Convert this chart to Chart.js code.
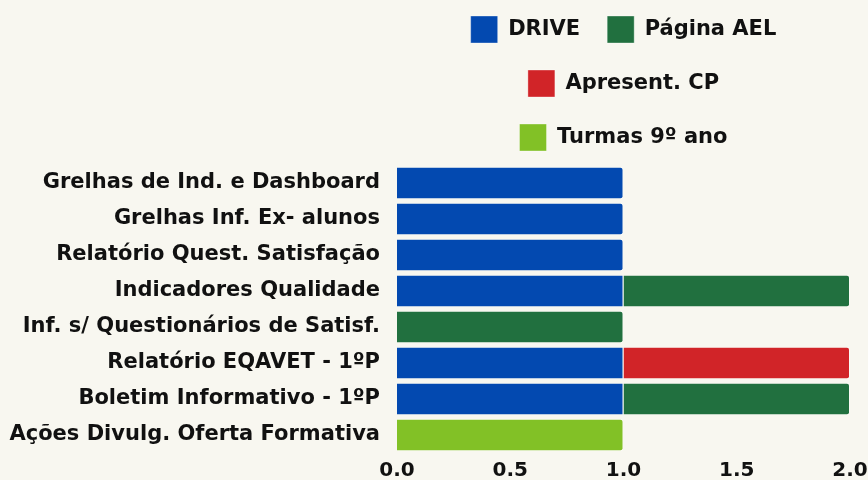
<!DOCTYPE html>
<html>
<head>
<meta charset="utf-8">
<script src="https://cdn.jsdelivr.net/npm/chart.js@4/dist/chart.umd.min.js"></script>
<style>
  html, body { margin: 0; padding: 0; background: #f8f7f0; }
  #wrap { width: 868px; height: 480px; position: relative; }
</style>
</head>
<body>
<div id="wrap"><canvas id="c" width="868" height="480"></canvas></div>
<script>
const categories = [
  "Grelhas de Ind. e Dashboard",
  "Grelhas Inf. Ex- alunos",
  "Relatório Quest. Satisfação",
  "Indicadores Qualidade",
  "Inf. s/ Questionários de Satisf.",
  "Relatório EQAVET - 1ºP",
  "Boletim Informativo - 1ºP",
  "Ações Divulg. Oferta Formativa"
];
const seriesNames = ["DRIVE", "Página AEL", "Apresent. CP", "Turmas 9º ano"];
const drive      = [1, 1, 1, 1, null, 1, 1, null];
const paginaAEL  = [null, null, null, 1, 1, null, 1, null];
const apresentCP = [null, null, null, null, null, 1, null, null];
const turmas9    = [null, null, null, null, null, null, null, 1];
const xTicks = [0, 0.5, 1, 1.5, 2];

const colors = ["#0349b0", "#21703f", "#d12428", "#82c126"];
const FONT = "'DejaVu Sans', sans-serif";

function ds(label, data, color) {
  return {
    label, data,
    backgroundColor: color,
    borderColor: "rgba(255,255,255,0.35)",
    borderWidth: 1,
    borderRadius: 3,
    barPercentage: 0.9,
    categoryPercentage: 1.0
  };
}

const chart = new Chart(document.getElementById("c"), {
  type: "bar",
  data: {
    labels: categories,
    datasets: [
      ds(seriesNames[0], drive, colors[0]),
      ds(seriesNames[1], paginaAEL, colors[1]),
      ds(seriesNames[2], apresentCP, colors[2]),
      ds(seriesNames[3], turmas9, colors[3])
    ]
  },
  options: {
    indexAxis: "y",
    responsive: false,
    animation: false,
    layout: { padding: { left: 0, right: 0, top: -11, bottom: 0 } },
    plugins: {
      legend: {
        position: "top",
        fullSize: false,
        labels: {
          boxWidth: 27,
          boxHeight: 27,
          padding: 27,
          color: "#111",
          font: { family: FONT, size: 21, weight: "bold" }
        }
      },
      tooltip: { enabled: false }
    },
    scales: {
      x: {
        stacked: true,
        min: 0,
        max: 2,
        afterBuildTicks: (axis) => { axis.ticks = xTicks.map(v => ({ value: v })); },
        afterFit: (axis) => { axis.paddingRight = 18; axis.paddingBottom = 0; axis.height = 27; },
        grid: { display: false, drawTicks: false },
        border: { display: false },
        ticks: {
          color: "#111",
          padding: 6,
          maxRotation: 0,
          font: { family: FONT, size: 20, weight: "bold" },
          callback: (v) => Number(v).toFixed(1)
        }
      },
      y: {
        stacked: true,
        grid: { display: false, drawTicks: false },
        border: { display: false },
        afterFit: (axis) => { axis.width = 397; axis.paddingTop = 0; axis.paddingBottom = 0; },
        ticks: {
          color: "#111",
          padding: 17,
          autoSkip: false,
          font: { family: FONT, size: 21, weight: "bold" }
        }
      }
    }
  }
});
const origFit = chart.legend.fit;
chart.legend.fit = function () { origFit.call(this); this.height += 4; };
chart.update();
</script>
</body>
</html>
